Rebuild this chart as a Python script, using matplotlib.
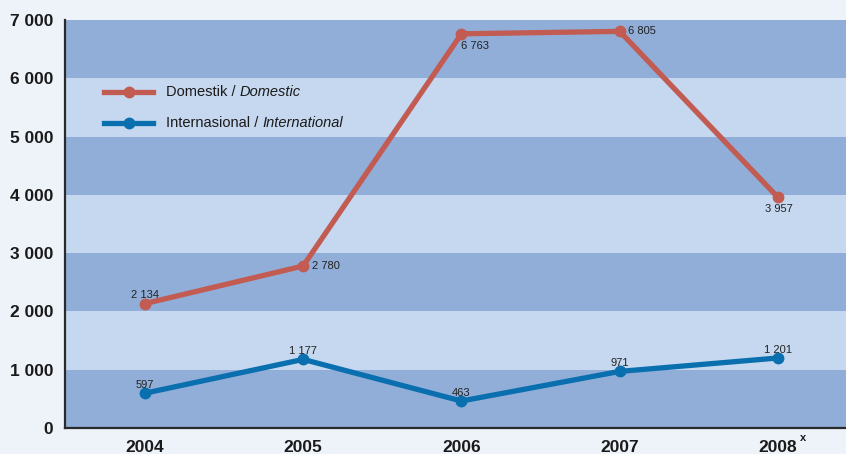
import matplotlib
matplotlib.use("Agg")
import matplotlib.pyplot as plt
from matplotlib.lines import Line2D

years = ["2004", "2005", "2006", "2007", "2008"]
domestic = [2134, 2780, 6763, 6805, 3957]
international = [597, 1177, 463, 971, 1201]
y_ticks = [0, 1000, 2000, 3000, 4000, 5000, 6000, 7000]

RED = "#c25b52"
BLUE = "#0a6fae"
BAND_DARK = "#91aed8"
BAND_LIGHT = "#c6d8ef"
BG = "#eef3fa"

plt.rcParams["font.family"] = ["Liberation Sans", "DejaVu Sans"]

W, H = 846, 454
fig = plt.figure(figsize=(W / 100, H / 100), dpi=100, facecolor=BG)
ax = fig.add_axes([65 / W, 1 - 428 / H, 781 / W, 408 / H])
ax.set_facecolor(BAND_DARK)

x = list(range(len(years)))
ax.set_xlim(-0.505, 4.43)
ax.set_ylim(0, 7000)

# alternating horizontal bands
for lo in range(0, 7000, 1000):
    color = BAND_DARK if (lo // 1000) % 2 == 0 else BAND_LIGHT
    ax.axhspan(lo, lo + 1000, color=color, lw=0, zorder=0)

ax.plot(x, domestic, color=RED, lw=3.8, marker="o", ms=7.5,
        solid_capstyle="round", zorder=3)
ax.plot(x, international, color=BLUE, lw=3.8, marker="o", ms=7.5,
        solid_capstyle="round", zorder=3)

def fmt(v):
    return f"{v:,}".replace(",", " ")

lab_kw = dict(fontsize=8, color="#222222", zorder=4)
# domestic labels
dom_offsets = [(0, 6, "center", "center"), (6, 0, "left", "center"),
               (0, -5, "left", "top"), (6, 0, "left", "center"),
               (1, -5, "center", "top")]
for xi, v, (dx, dy, ha, va) in zip(x, domestic, dom_offsets):
    ax.annotate(fmt(v), (xi, v), xytext=(dx, dy), textcoords="offset points",
                ha=ha, va=va, **lab_kw)
# international labels
for xi, v in zip(x, international):
    ax.annotate(fmt(v), (xi, v), xytext=(0, 6), textcoords="offset points",
                ha="center", va="center", **lab_kw)

ax.set_yticks(y_ticks)
ax.set_yticklabels([fmt(t) for t in y_ticks], fontsize=12.5, fontweight="bold")
ax.set_xticks(x)
ax.set_xticklabels(years, fontsize=12.5, fontweight="bold")
ax.tick_params(axis="both", length=0, colors="#1a1a1a")
ax.tick_params(axis="y", pad=8.5)
ax.tick_params(axis="x", pad=9)
ax.text(x[-1] + 0.14, -170, "x", fontsize=8, fontweight="bold",
        ha="left", va="center", color="#1a1a1a", clip_on=False)

for s in ["top", "right"]:
    ax.spines[s].set_visible(False)
for s in ["left", "bottom"]:
    ax.spines[s].set_color("#2a2a2a")
    ax.spines[s].set_linewidth(1.6)

# legend drawn manually
fig_tr = fig.transFigure
def legend_row(ypix, color, parts):
    y = 1 - ypix / H
    fig.add_artist(Line2D([104 / W, 153 / W], [y, y], color=color, lw=3.8,
                          transform=fig_tr))
    fig.add_artist(Line2D([129 / W], [y], color=color, marker="o", ms=7.5,
                          transform=fig_tr))
    xp = 166
    for txt, style in parts:
        t = fig.text(xp / W, y, txt, fontsize=10.5, style=style,
                     ha="left", va="center", color="#1a1a1a")
        fig.canvas.draw()
        xp = t.get_window_extent().x1

legend_row(92, RED, [("Domestik / ", "normal"), ("Domestic", "italic")])
legend_row(123, BLUE, [("Internasional / ", "normal"), ("International", "italic")])

fig.savefig("out.png", dpi=100, facecolor=BG)
